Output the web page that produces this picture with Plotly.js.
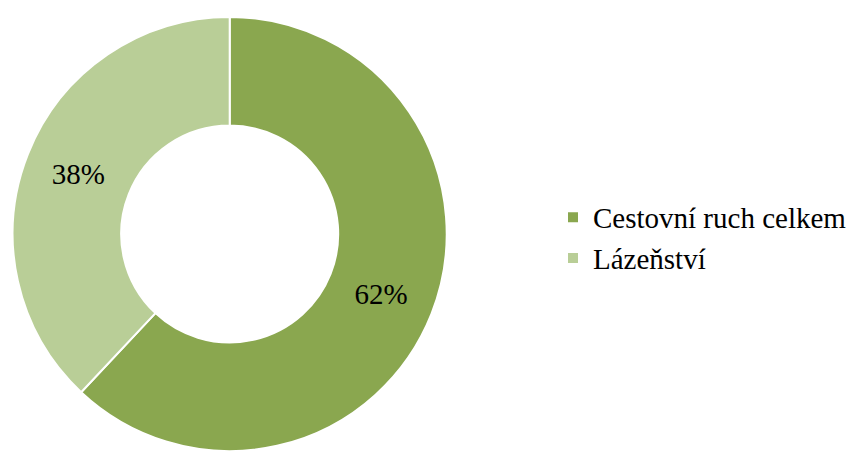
<!DOCTYPE html>
<html>
<head>
<meta charset="utf-8">
<script src="https://cdn.plot.ly/plotly-3.0.1.min.js"></script>
<style>
html,body{margin:0;padding:0;background:#fff;}
#chart{width:852px;height:453px;}
</style>
</head>
<body>
<div id="chart"></div>
<script>
const categories = ["Cestovní ruch celkem", "Lázeňství"];
const values = [62, 38];
const colors = ["#8AA74F", "#B9CE97"];

const serif = "Liberation Serif, Times New Roman, serif";

const data = [{
  type: "pie",
  labels: categories,
  values: values,
  hole: 0.5,
  sort: false,
  direction: "clockwise",
  rotation: 0,
  textinfo: "percent",
  textposition: "inside",
  insidetextorientation: "horizontal",
  textfont: {family: serif, size: 29, color: "#000"},
  marker: {colors: colors, line: {color: "#ffffff", width: 2}},
  domain: {x: [13/852, 458/852], y: [0, (453-15)/453]},
  hoverinfo: "label+percent"
}];

const layout = {
  width: 852,
  height: 453,
  margin: {l: 0, r: 0, t: 0, b: 0},
  paper_bgcolor: "#fff",
  plot_bgcolor: "#fff",
  font: {family: serif, size: 29, color: "#000"},
  showlegend: true,
  legend: {
    x: 567/852, xanchor: "left",
    y: 0.475, yanchor: "middle",
    font: {family: serif, size: 29, color: "#000"},
    bgcolor: "rgba(0,0,0,0)"
  }
};

Plotly.newPlot("chart", data, layout, {displayModeBar: false, staticPlot: true});
</script>
</body>
</html>
